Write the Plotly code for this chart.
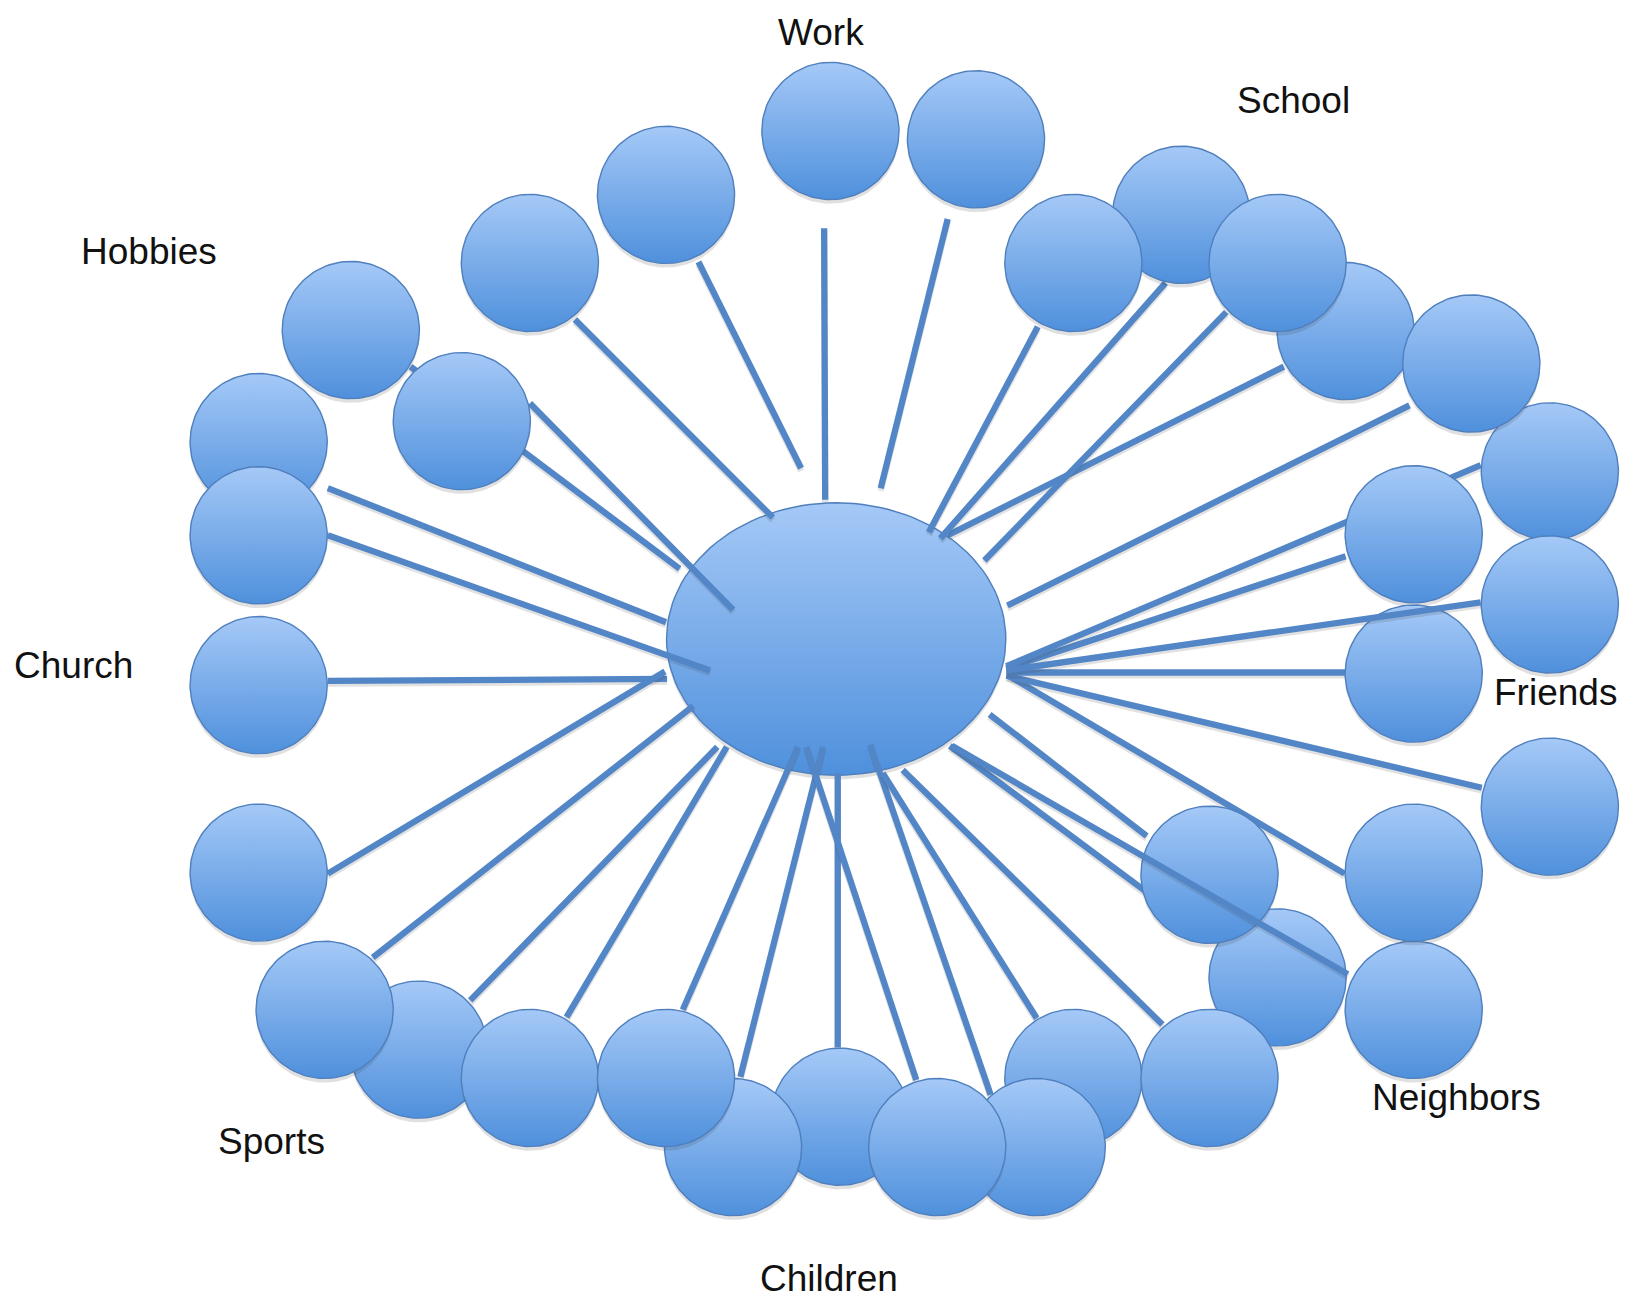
import numpy as np
import plotly.graph_objects as go

# Drawing units = reference image units (1568 x 1241), scaled onto a 1642 x 1300 canvas
W, H = 1568, 1241

# Central hub (ellipse)
hub_x, hub_y, hub_rx, hub_ry = 798.5, 610, 162, 130

# Outer nodes (circle centres)
node_x = [793, 932, 636, 506, 335, 441, 247, 247, 247, 247, 310, 400, 506, 636, 700, 802, 895,
          990, 1025, 1155, 1220, 1155, 1350, 1350, 1480, 1350, 1480, 1350, 1480, 1405, 1285, 1220, 1128, 1025]
node_y = [125, 133, 186, 251, 315, 402, 422, 511, 654, 833, 964, 1002, 1029, 1029, 1095, 1066, 1095,
          1095, 1029, 1029, 933, 835, 964, 833, 770, 643, 577, 510, 450, 347, 316, 251, 205, 251]
node_r = 65.5
# painting order (1-based node index; later = on top)
node_order = [1, 2, 3, 4, 5, 6, 7, 8, 9, 10, 12, 11, 13, 16, 15, 14, 19, 18, 17, 21, 20, 22, 23, 24,
              25, 29, 28, 27, 26, 31, 33, 34, 32, 30]

# Spokes: outer end (x0, y0) -> inner end (x1, y1)
spoke_x0 = [787, 905, 667, 549, 392, 506, 313, 313, 313, 313, 356, 449, 541, 652, 707, 800, 875,
            946, 990, 1110, 1095, 1093, 1284, 1415, 1285, 1285, 1414, 1346, 1226, 1171, 1113, 991]
spoke_y0 = [218, 209, 250, 305, 350, 385, 466, 511, 650, 834, 914, 955, 971, 964, 1028, 1000, 1031,
            1045, 972, 978, 798, 850, 834, 752, 642, 531, 444, 387, 350, 298, 270, 312]
spoke_x1 = [788, 841, 765, 738, 649, 700, 636, 678, 637, 635, 662, 685, 694, 762, 786, 800, 770,
            831, 843, 862, 945, 907, 963, 961, 961, 961, 961, 962, 905, 940, 898, 887]
spoke_y1 = [477, 466, 447, 494, 543, 582, 594, 640, 648, 641, 674, 713, 713, 713, 713, 738, 713,
            711, 738, 735, 682, 712, 645, 645, 642, 638, 636, 578, 511, 535, 514, 508]
# spokes drawn above the circles
top_x0 = [1287, 1414]
top_y0 = [930, 575]
top_x1 = [909, 961]
top_y1 = [712, 640]

labels = ["Work", "School", "Hobbies", "Church", "Friends", "Neighbors", "Sports", "Children"]
label_x = [784, 1235, 142, 70, 1485, 1391, 259, 792]
label_y = [31, 96, 240, 635, 661, 1048, 1090, 1220]

LIGHT = "#a5c9f7"
DARK = "#4f90dc"
EDGE = "#4f7fbd"
LINE = "#5286c6"
SHADOW = "rgba(60,60,60,0.16)"

fig = go.Figure()

t = np.linspace(0, 2 * np.pi, 121)


def blob(cx, cy, rx, ry, dy=0.0, shadow=False):
    xs = cx + rx * np.cos(t)
    ys = cy + dy + ry * np.sin(t)
    if shadow:
        fig.add_trace(go.Scatter(x=xs, y=ys, mode="lines", fill="toself",
                                 fillcolor=SHADOW, line=dict(width=0),
                                 hoverinfo="skip", showlegend=False))
    else:
        fig.add_trace(go.Scatter(x=xs, y=ys, mode="lines", fill="toself",
                                 fillgradient=dict(type="vertical",
                                                   colorscale=[[0, DARK], [1, LIGHT]]),
                                 line=dict(color=EDGE, width=1.4),
                                 hoverinfo="skip", showlegend=False))


def spoke(x0, y0, x1, y1):
    fig.add_trace(go.Scatter(x=[x0, x1], y=[y0 + 2.5, y1 + 2.5], mode="lines",
                             line=dict(color="rgba(70,70,70,0.16)", width=6.5),
                             hoverinfo="skip", showlegend=False))
    fig.add_trace(go.Scatter(x=[x0, x1], y=[y0, y1], mode="lines",
                             line=dict(color=LINE, width=6.3),
                             hoverinfo="skip", showlegend=False))


# hub
blob(hub_x, hub_y, hub_rx, hub_ry, dy=4, shadow=True)
blob(hub_x, hub_y, hub_rx, hub_ry)

# spokes under circles
for a, b, c, d in zip(spoke_x0, spoke_y0, spoke_x1, spoke_y1):
    spoke(a, b, c, d)

# circles
for k in node_order:
    i = k - 1
    blob(node_x[i], node_y[i], node_r, node_r, dy=4, shadow=True)
    blob(node_x[i], node_y[i], node_r, node_r)

# spokes on top
for a, b, c, d in zip(top_x0, top_y0, top_x1, top_y1):
    spoke(a, b, c, d)

for txt, x, y in zip(labels, label_x, label_y):
    fig.add_annotation(x=x, y=y, text=txt, showarrow=False, xanchor="center", yanchor="middle",
                       font=dict(family="Liberation Sans, Arial, sans-serif", size=37, color="#111111"))

fig.update_layout(width=1642, height=1300, margin=dict(l=0, r=0, t=0, b=0),
                  paper_bgcolor="white", plot_bgcolor="white", showlegend=False)
fig.update_xaxes(range=[0, W], visible=False, fixedrange=True)
fig.update_yaxes(range=[H, 0], visible=False, fixedrange=True)

fig.write_html("out.html",
               config={"displayModeBar": False},
               post_script="document.body.style.margin='0';document.body.style.overflow='hidden';")
